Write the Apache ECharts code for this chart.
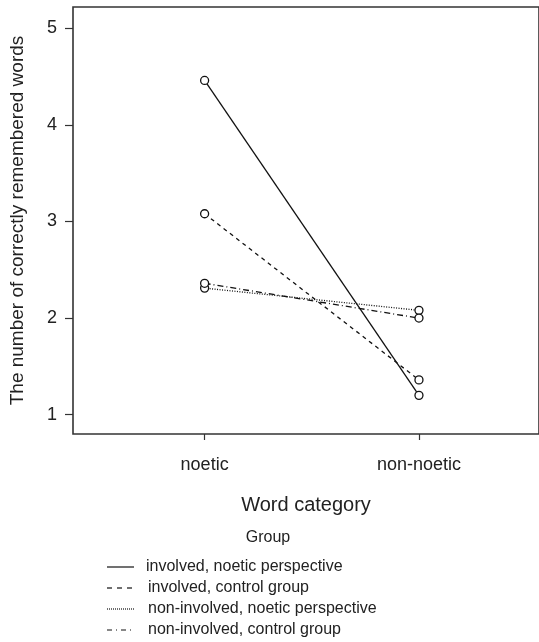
<!DOCTYPE html>
<html>
<head>
<meta charset="utf-8">
<script src="https://cdn.jsdelivr.net/npm/echarts@6/dist/echarts.min.js"></script>
<style>html,body{margin:0;padding:0;background:#fff}#c{width:539px;height:642px}</style>
</head>
<body>
<div id="c"></div>
<script>
const categories = ['noetic', 'non-noetic'];
const groupNames = ['involved, noetic perspective', 'involved, control group', 'non-involved, noetic perspective', 'non-involved, control group'];
const involvedNoetic = [4.46, 1.20];
const involvedControl = [3.08, 1.36];
const nonInvolvedNoetic = [2.31, 2.08];
const nonInvolvedControl = [2.36, 2.00];
const yTicks = [1, 2, 3, 4, 5];

const seriesValues = [involvedNoetic, involvedControl, nonInvolvedNoetic, nonInvolvedControl];
const lineTypes = ['solid', [4, 4], [1, 1.5], [6, 3, 1, 3]];
const legendLineTypes = ['solid', [5, 5], [1, 1], [5, 4, 1, 4]];
const FONT = 'Liberation Sans, Arial, sans-serif';
const INK = '#222';

const chart = echarts.init(document.getElementById('c'), null, {renderer: 'canvas'});

const series = seriesValues.map((vals, i) => ({
  name: groupNames[i],
  type: 'line',
  data: vals.map((v, j) => [j + 1, v]),
  symbol: 'circle',
  symbolSize: 8,
  itemStyle: {color: '#fff', borderColor: '#111', borderWidth: 1.3},
  lineStyle: {color: '#111', width: 1.3, type: lineTypes[i]},
  z: 3,
  animation: false
}));

const legendGraphics = [];
const legendTop = 567, legendStep = 21;
groupNames.forEach((name, i) => {
  const y = legendTop + i * legendStep;
  legendGraphics.push({
    type: 'line', shape: {x1: 107, y1: y, x2: 134, y2: y},
    style: {stroke: '#111', lineWidth: 1.2, lineDash: legendLineTypes[i] === 'solid' ? null : legendLineTypes[i]}
  });
  legendGraphics.push({
    type: 'text', x: i === 0 ? 146 : 148, y: y,
    style: {text: name, font: '16px ' + FONT, fill: INK, textVerticalAlign: 'middle'}
  });
});
legendGraphics.push({
  type: 'text', x: 268, y: 538,
  style: {text: 'Group', font: '16px ' + FONT, fill: INK, textAlign: 'center', textVerticalAlign: 'middle'}
});

chart.setOption({
  animation: false,
  backgroundColor: '#fff',
  grid: {left: 73, top: 7, right: -3, bottom: 208, show: true, borderColor: '#333', borderWidth: 1.6, backgroundColor: 'transparent'},
  xAxis: {
    type: 'value', min: 0.386, max: 2.56,
    interval: 1,
    axisLine: {show: false},
    axisTick: {show: true, length: 6, lineStyle: {color: '#333', width: 1.2}, customValues: [1, 2]},
    axisLabel: {show: true, customValues: [1, 2], formatter: v => categories[Math.round(v) - 1] || '', fontSize: 18, fontFamily: FONT, color: INK, margin: 22},
    splitLine: {show: false},
    name: 'Word category', nameLocation: 'middle', nameGap: 61,
    nameTextStyle: {fontSize: 20, fontFamily: FONT, color: INK}
  },
  yAxis: {
    type: 'value', min: 0.8, max: 5.22,
    axisLine: {show: false},
    axisTick: {show: true, length: 8, lineStyle: {color: '#333', width: 1.2}, customValues: yTicks},
    axisLabel: {show: true, customValues: yTicks, fontSize: 18, fontFamily: FONT, color: INK, margin: 16},
    splitLine: {show: false},
    name: 'The number of correctly remembered words', nameLocation: 'middle', nameGap: 46,
    nameTextStyle: {fontSize: 19, fontFamily: FONT, color: INK}
  },
  series: series,
  graphic: legendGraphics
});
</script>
</body>
</html>
